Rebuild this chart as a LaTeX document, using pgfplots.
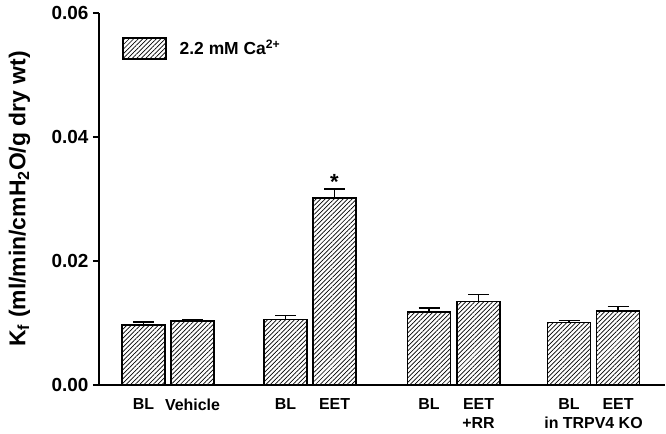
\documentclass[border=0pt]{standalone}
\usepackage{pgfplots}
\pgfplotsset{compat=1.18}
\usepackage{fontspec}
\setmainfont{Liberation Sans}
\usetikzlibrary{patterns.meta}
\pgfplotstableread{
x y e
143.5 0.0097 0.0005
192.5 0.0103 0.0002
285.5 0.0106 0.0006
334.5 0.0302 0.0014
429.0 0.0118 0.0006
478.5 0.0135 0.0011
569.0 0.0101 0.0003
618.0 0.0119 0.0008
}\datatable
\begin{document}
\begin{tikzpicture}
\begin{axis}[
  at={(99bp,49bp)}, anchor=south west,
  width=566bp, height=372bp, scale only axis,
  xmin=99, xmax=665, ymin=0, ymax=0.06,
  axis lines=left, axis line style={-, line width=1.6pt, black},
  ytick={0,0.02,0.04,0.06},
  scaled y ticks=false,
  yticklabel style={font=\bfseries\fontsize{19}{21}\selectfont, xshift=-1bp,
    /pgf/number format/.cd, fixed, fixed zerofill, precision=2, assume math mode=true},
  tick align=outside, major tick length=6bp,
  y tick style={line width=1.5pt, black},
  xtick={143.5,192.5,285.5,334.5,429,478.5,569,618},
  xticklabels={BL,Vehicle,BL,EET,BL,{EET\\+RR},BL,EET},
  xticklabel style={align=center, font=\bfseries\fontsize{16}{19}\selectfont, yshift=-4bp},
  x tick style={draw=none},
  every axis y label/.style={at={(rel axis cs:0,0.5)}, rotate=90, anchor=center, yshift=79.5bp, xshift=0bp},
  ylabel={K\textsubscript{f} (ml/min/cmH\textsubscript{2}O/g dry wt)},
  ylabel style={font=\bfseries\fontsize{23}{26}\selectfont},
  legend style={at={(axis cs:122,0.0543)}, anchor=west, draw=none, fill=none, inner sep=0pt,
    font=\bfseries\fontsize{17.5}{20}\selectfont,
    /tikz/every odd column/.append style={column sep=11bp}},
  legend image code/.code={\draw[line width=1.5pt, black, pattern={Lines[angle=45,distance=3.2pt,line width=0.7pt]}] (0bp,-10.5bp) rectangle (43bp,10.5bp);},
  clip=false,
]
\addplot[ybar, bar width=43, bar shift=0pt, draw=black, line width=1.5pt,
  pattern={Lines[angle=45,distance=3.2pt,line width=0.7pt]},
  error bars/.cd, y dir=plus, y explicit,
  error bar style={line width=1.5pt, black, solid},
  error mark options={rotate=90, mark size=10.5bp, line width=1.5pt, black}]
  table[x=x, y=y, y error=e] {\datatable};
\addlegendentry{2.2 mM Ca\textsuperscript{2+}}
\node[font=\bfseries\fontsize{22}{24}\selectfont] at (axis cs:334.5,0.0328) {*};
\node[font=\bfseries\fontsize{16}{19}\selectfont, anchor=base] at (axis cs:593.5,0) [yshift=-43bp] {in TRPV4 KO};
\end{axis}
\pgfresetboundingbox
\path[use as bounding box] (0,0) rectangle (666bp,434bp);
\end{tikzpicture}
\end{document}
